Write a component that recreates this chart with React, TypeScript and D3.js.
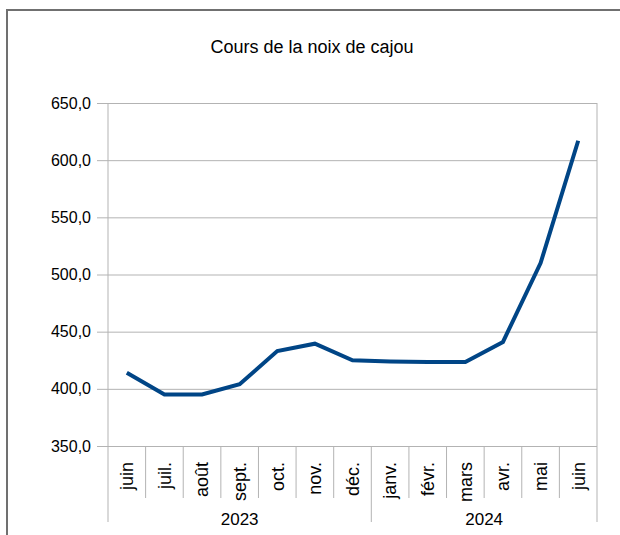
import * as d3 from "d3";
import React, { useRef, useEffect } from "react";

const months = ["juin", "juil.", "août", "sept.", "oct.", "nov.", "déc.", "janv.", "févr.", "mars", "avr.", "mai", "juin"];
const years = ["2023", "2023", "2023", "2023", "2023", "2023", "2023", "2024", "2024", "2024", "2024", "2024", "2024"];
const prices = [414, 395, 395, 404, 433, 439.5, 425, 424, 423.5, 423.5, 441, 510, 617];
const yTicks = [350, 400, 450, 500, 550, 600, 650];

const width = 620;
const height = 535;
const left = 108;
const right = 597;
const top = 103;
const bottom = 446;
const font = "'Liberation Sans', Arial, sans-serif";

function App() {
  const ref = useRef(null);

  useEffect(() => {
    const svg = d3.select(ref.current);
    svg.selectAll("*").remove();

    const idx = months.map((d, i) => i);
    const x = d3.scaleBand().domain(idx).range([left, right]);
    const y = d3.scaleLinear().domain([350, 650]).range([bottom, top]);

    // frame
    svg
      .append("path")
      .attr("d", `M7,${height} V10 H${width}`)
      .attr("fill", "none")
      .attr("stroke", "#707070")
      .attr("stroke-width", 2);

    svg
      .append("text")
      .attr("x", 312)
      .attr("y", 53)
      .attr("text-anchor", "middle")
      .style("font-family", font)
      .style("font-size", "18px")
      .text("Cours de la noix de cajou");

    // grid + y axis
    const yAxis = d3
      .axisLeft(y)
      .tickValues(yTicks)
      .tickSize(-(right - left))
      .tickPadding(6)
      .tickFormat((d) => d3.format(".1f")(d).replace(".", ","));

    const ga = svg.append("g").attr("transform", `translate(${left},0)`).call(yAxis);
    ga.select(".domain").remove();
    ga.selectAll(".tick line").attr("stroke", "#b3b3b3").attr("x2", right - left).attr("x1", -11);
    ga.selectAll(".tick text")
      .attr("x", -17)
      .style("font-family", font)
      .style("font-size", "16px")
      .attr("fill", "#000");

    // vertical borders of plot
    svg
      .append("g")
      .selectAll("line")
      .data([left, right])
      .enter()
      .append("line")
      .attr("x1", (d) => d)
      .attr("x2", (d) => d)
      .attr("y1", top)
      .attr("y2", bottom)
      .attr("stroke", "#b3b3b3");

    // category separators
    const bounds = d3.range(months.length + 1);
    svg
      .append("g")
      .selectAll("line")
      .data(bounds)
      .enter()
      .append("line")
      .attr("x1", (i) => (i < months.length ? x(i) : right))
      .attr("x2", (i) => (i < months.length ? x(i) : right))
      .attr("y1", bottom)
      .attr("y2", (i) => (i === 0 || i === months.length || years[i] !== years[i - 1] ? 522 : 498))
      .attr("stroke", "#b3b3b3");

    svg
      .append("g")
      .selectAll("text")
      .data(months)
      .enter()
      .append("text")
      .attr("transform", (d, i) => `translate(${x(i) + x.bandwidth() / 2},462) rotate(-90)`)
      .attr("text-anchor", "end")
      .attr("dy", "0.35em")
      .style("font-family", font)
      .style("font-size", "18px")
      .text((d) => d);

    // year labels
    const groups = d3.groups(idx, (i) => years[i]);
    svg
      .append("g")
      .selectAll("text")
      .data(groups)
      .enter()
      .append("text")
      .attr("x", (g) => {
        const a = x(g[1][0]);
        const b = x(g[1][g[1].length - 1]) + x.bandwidth();
        return (a + b) / 2;
      })
      .attr("y", 525)
      .attr("text-anchor", "middle")
      .style("font-family", font)
      .style("font-size", "17px")
      .text((g) => g[0]);

    const line = d3
      .line()
      .x((d, i) => x(i) + x.bandwidth() / 2)
      .y((d) => y(d));

    svg
      .append("path")
      .datum(prices)
      .attr("d", line)
      .attr("fill", "none")
      .attr("stroke", "#004586")
      .attr("stroke-width", 4)
      .attr("stroke-linejoin", "miter");
  }, []);

  return (
    <svg
      ref={ref}
      width={width}
      height={height}
      style={{ position: "absolute", left: 0, top: 0, background: "#fff" }}
    ></svg>
  );
}

export default App;
